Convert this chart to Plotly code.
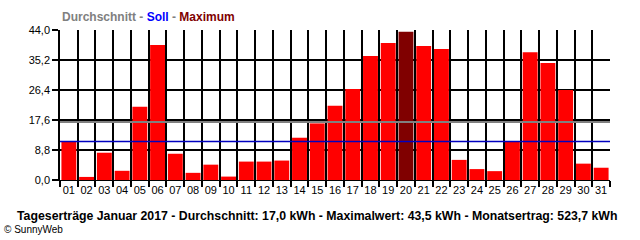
import plotly.graph_objects as go

days = [f"{d:02d}" for d in range(1, 32)]
values = [11.3, 0.9, 8.0, 2.7, 21.5, 39.6, 7.7, 2.1, 4.5, 1.0, 5.4, 5.4, 5.7, 12.4, 16.6, 21.8,
          26.7, 36.4, 40.2, 43.5, 39.3, 38.4, 5.9, 3.2, 2.6, 11.3, 37.5, 34.3, 26.4, 4.8, 3.6]
average = 17.0
soll = 11.3
maximum = 43.5
total = 523.7
y_ticks = [0.0, 8.8, 17.6, 26.4, 35.2, 44.0]

xs = list(range(1, len(days) + 1))
colors = ["#800000" if v == max(values) else "#FF0000" for v in values]

FONT = "Liberation Sans, Arial, sans-serif"

fig = go.Figure()
fig.add_trace(go.Bar(x=xs, y=values, marker=dict(color=colors, line=dict(width=0)), hoverinfo="skip"))

fig.add_shape(type="line", xref="paper", yref="y", x0=0, x1=1, y0=average, y1=average,
              line=dict(color="#808080", width=2), layer="above")
fig.add_shape(type="line", xref="paper", yref="y", x0=0, x1=1, y0=soll, y1=soll,
              line=dict(color="#0000C0", width=1.5), layer="above")

fig.update_layout(
    width=640, height=240,
    margin=dict(l=60, r=30, t=30, b=60),
    paper_bgcolor="white", plot_bgcolor="white",
    showlegend=False,
    bargap=0.16,
    separators=",.",
    font=dict(family=FONT, size=11, color="black"),
)
fig.update_xaxes(
    range=[0.5, len(days) + 0.5], tickmode="array", tickvals=xs, ticktext=days,
    showgrid=False, ticks="", showline=True, linecolor="black", linewidth=1,
    tickfont=dict(size=11, color="black"),
    minor=dict(tickmode="array", tickvals=[x - 0.5 for x in xs] + [len(xs) + 0.5],
               showgrid=True, gridcolor="black", gridwidth=1.5,
               ticks="outside", ticklen=6, tickcolor="black", tickwidth=1.5),
    fixedrange=True, zeroline=False,
)
fig.update_yaxes(
    range=[0, 44], tickmode="array", tickvals=y_ticks, tickformat=".1f",
    showgrid=True, gridcolor="black", gridwidth=1.5,
    ticks="outside", ticklen=6, tickcolor="black", tickwidth=1.5,
    showline=True, linecolor="black", linewidth=1.5, zeroline=False,
    tickfont=dict(size=11, color="black"),
)

fig.add_annotation(
    xref="paper", yref="paper", x=0, y=1, xanchor="left", yanchor="bottom", yshift=4,
    showarrow=False, font=dict(family=FONT, size=12),
    text="<b><span style='color:#808080'>Durchschnitt - </span>"
         "<span style='color:#0000FF'>Soll</span>"
         "<span style='color:#808080'> - </span>"
         "<span style='color:#800000'>Maximum</span></b>",
)

def de(v):
    return f"{v:.1f}".replace(".", ",")

fig.add_annotation(
    xref="paper", yref="paper", x=1, y=0, xanchor="right", yanchor="top", yshift=-27, xshift=9,
    showarrow=False, font=dict(family=FONT, size=12.3, color="black"),
    text=f"<b>Tageserträge Januar 2017 - Durchschnitt: {de(average)} kWh - Maximalwert: {de(maximum)} kWh - Monatsertrag: {de(total)} kWh</b>",
)
fig.add_annotation(
    xref="paper", yref="paper", x=-0.1, y=0, xanchor="left", yanchor="top", yshift=-42, xshift=-3,
    showarrow=False, font=dict(family=FONT, size=10, color="black"),
    text="© SunnyWeb",
)

fig.write_html("out.html")
